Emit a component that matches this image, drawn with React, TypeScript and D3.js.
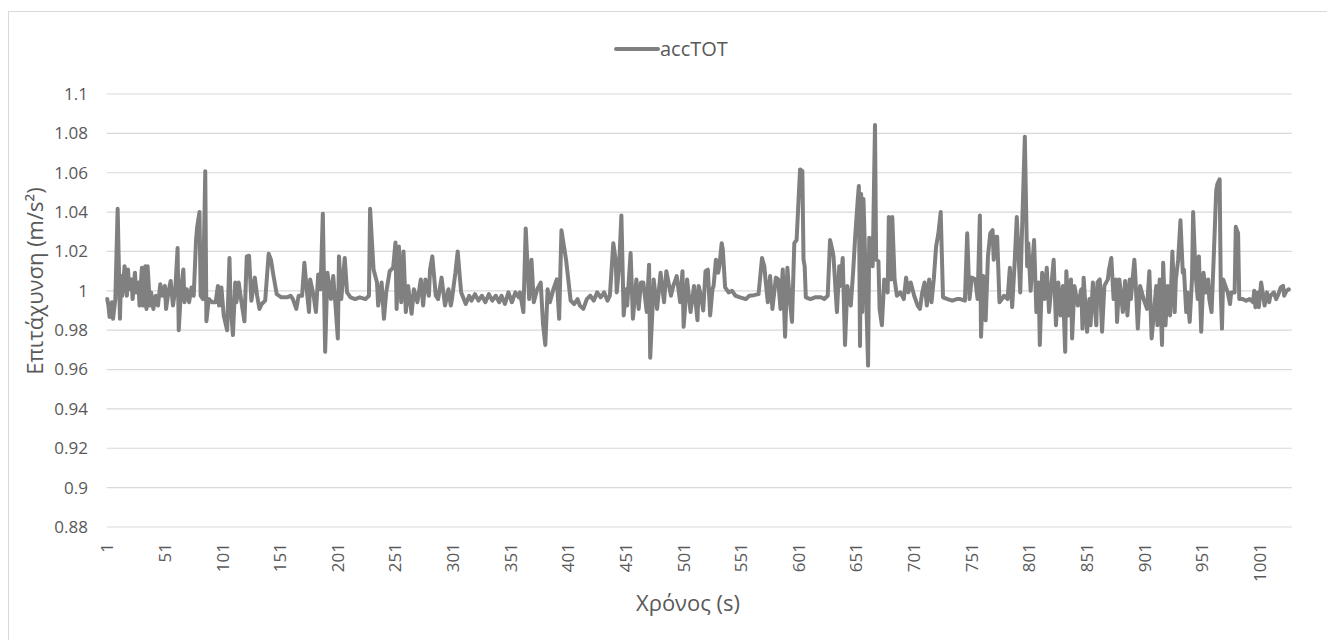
import React from 'react'
import * as d3 from 'd3'

// accTOT readings, [time index, value]
const accTOT: [number, number][] = [
  [1,0.9958],[2,0.9925],[3,0.9867],[5,0.9942],[6,0.9858],[8,0.9958],[10,1.0417],[12,0.9858],[13,1.0075],[14,0.9975],
  [16,1.0125],[18,0.9975],[19,1.0108],[20,1.0008],[22,1.0058],[23,0.9958],[25,1.0092],[26,0.9992],[28,1.0042],[29,0.9925],
  [31,1.0117],[32,0.9925],[34,1.0125],[35,0.9908],[36,1.0125],[38,0.9925],[39,0.9992],[41,0.9908],[43,0.9975],[45,0.9925],
  [47,1.0033],[49,0.9975],[51,1.0025],[52,0.9908],[54,0.9992],[56,1.005],[58,0.9925],[60,1.0008],[62,1.0217],[63,0.98],
  [65,1.0008],[67,1.0108],[68,0.9942],[70,1.0008],[72,0.9942],[74,1.0017],[76,0.9975],[78,1.0258],[79,1.0325],[81,1.04],
  [82,0.9975],[84,0.9958],[86,1.0608],[87,0.9845],[89,0.9958],[92,0.9942],[95,0.9942],[97,1.0025],[98,0.9925],[100,1.0017],
  [102,0.9875],[105,0.98],[107,1.0167],[108,0.9925],[110,0.9775],[112,1.0042],[113,0.9942],[115,1.0042],[117,0.9958],[120,0.9845],
  [122,1.0175],[124,1.0178],[126,0.995],[129,1.0067],[131,0.9975],[133,0.9908],[135,0.9933],[138,0.995],[141,1.0188],[143,1.0158],
  [145,1.0083],[148,0.9983],[152,0.9967],[157,0.9967],[160,0.9975],[162,0.9958],[165,0.9908],[167,0.9975],[170,0.9975],[172,1.0142],
  [174,1.0008],[176,0.9892],[177,1.0058],[180,0.9975],[182,0.9892],[184,1.0083],[186,1.0008],[188,1.0392],[190,0.969],[192,1.0092],
  [195,0.9958],[197,1.0075],[199,0.9925],[201,0.9758],[202,1.0175],[204,0.9958],[207,1.0167],[209,0.9992],[212,0.9967],[216,0.9958],
  [220,0.9967],[225,0.9958],[228,0.9975],[229,1.0417],[231,1.0208],[232,1.0108],[235,1.0042],[236,0.9925],[239,1.0042],[241,0.9858],
  [243,0.9992],[246,1.01],[249,1.0117],[251,1.0245],[252,0.9908],[254,1.0225],[256,0.9942],[258,1.02],[260,0.9892],[262,1.0025],
  [265,0.9883],[267,1.0008],[270,0.9942],[273,1.0058],[275,0.9925],[277,1.0058],[280,0.9975],[281,1.0108],[283,1.0175],[284,1.0108],
  [286,0.9975],[288,0.9958],[291,1.0067],[294,0.9925],[297,1.0008],[299,0.9925],[300,0.9958],[303,1.0092],[305,1.02],[307,1.0058],
  [308,0.9992],[312,0.9933],[315,0.9975],[317,0.995],[320,0.9983],[323,0.995],[326,0.9975],[329,0.9942],[332,0.9983],[335,0.995],
  [338,0.9975],[341,0.9942],[343,0.9975],[346,0.9933],[349,0.9992],[352,0.9942],[355,0.9992],[358,0.9967],[359,0.9992],[362,0.9892],
  [364,1.0317],[367,0.9958],[369,1.0158],[371,0.9942],[374,1.0008],[377,1.0042],[379,0.9833],[381,0.9725],[383,1.0008],[385,0.9942],
  [388,1.0008],[391,1.0058],[393,0.9858],[395,1.0308],[397,1.0233],[399,1.0158],[403,0.995],[406,0.9933],[409,0.9958],[411,0.9925],
  [414,0.9908],[417,0.9958],[420,0.9975],[423,0.995],[426,0.9992],[429,0.9967],[432,0.9992],[435,0.995],[437,0.9975],[440,1.0242],
  [442,1.0158],[443,0.9992],[445,1.0125],[447,1.0383],[449,0.9875],[451,1.0008],[452,0.9925],[455,1.0192],[457,0.9858],[460,1.0058],
  [462,0.9908],[464,1.0042],[466,1.0042],[469,0.9892],[471,1.0133],[472,0.966],[474,0.9908],[475,1.0058],[478,0.9908],[481,1.0092],
  [484,0.9942],[486,1.01],[490,0.9975],[492,1.0025],[495,1.0075],[498,0.9942],[500,1.01],[501,0.9817],[504,1.0058],[507,0.9892],
  [510,1.0025],[513,0.985],[514,1.0025],[516,0.9975],[518,0.99],[520,1.01],[522,1.0108],[524,0.9875],[526,1.0008],[527,1.0025],
  [529,1.0158],[531,1.0092],[532,1.0125],[534,1.0242],[535,1.0208],[537,1.0017],[540,0.9992],[543,1.0],[546,0.9975],[550,0.9967],
  [555,0.9958],[558,0.9975],[562,0.9978],[566,0.9983],[569,1.0167],[571,1.0125],[572,1.0058],[574,0.9942],[576,1.0075],[578,0.9908],
  [581,1.0067],[583,1.0058],[585,0.9908],[587,1.0108],[589,0.9767],[591,1.0117],[593,0.9958],[595,0.9842],[597,1.0242],[599,1.0258],
  [602,1.0617],[604,1.0608],[605,1.0158],[606,1.0125],[607,0.9967],[611,0.9958],[615,0.9967],[620,0.9967],[623,0.9958],[626,0.9975],
  [628,1.0258],[630,1.0208],[631,1.0175],[634,0.9892],[636,1.0125],[637,1.0025],[639,1.0167],[641,0.9725],[643,1.0025],[646,0.9925],
  [648,1.0092],[650,1.0292],[652,1.0458],[653,1.0533],[654,0.972],[655,1.0492],[656,0.9892],[657,1.0467],[659,1.0058],[661,0.962],
  [662,1.027],[664,1.0258],[665,1.0125],[667,1.0842],[668,1.0158],[670,1.015],[671,0.9908],[673,0.9825],[675,1.0058],[678,0.9992],
  [679,1.0375],[681,1.0058],[682,1.0375],[684,1.0058],[686,0.9975],[689,0.9992],[692,0.9958],[694,1.0067],[696,0.9992],[698,1.0042],
  [701,0.9975],[704,0.9925],[706,0.9908],[708,0.9992],[710,1.0042],[712,0.9925],[714,1.0058],[716,0.9942],[718,1.0058],[720,1.0225],
  [722,1.0292],[724,1.04],[726,0.9967],[730,0.9958],[734,0.995],[738,0.9958],[741,0.9958],[745,0.995],[747,1.0292],[749,0.9958],
  [751,1.0067],[754,1.0058],[756,0.9958],[758,1.0383],[759,0.9767],[761,1.0075],[763,0.985],[765,1.0175],[767,1.0292],[769,1.0308],
  [770,1.0158],[772,1.0275],[773,1.0275],[775,0.9942],[779,0.9975],[782,0.9958],[784,1.0117],[786,0.9917],[788,1.0125],[790,1.0375],
  [792,1.0125],[793,0.9992],[795,1.0392],[797,1.0783],[799,1.0125],[800,1.0242],[802,1.0],[805,1.0258],[807,0.9892],[809,1.0042],
  [810,0.9725],[812,1.0092],[814,0.9958],[816,1.0117],[818,0.9892],[820,1.0025],[822,1.0158],[824,0.9825],[826,1.0042],[828,0.9875],
  [830,1.0025],[832,0.969],[833,1.01],[835,0.9875],[837,1.0058],[838,0.9758],[840,1.0025],[843,0.9925],[846,1.0008],[847,0.9808],
  [848,1.0067],[851,0.9792],[853,0.9958],[854,0.9825],[856,1.0042],[859,0.9825],[860,1.0042],[862,1.0058],[864,0.9792],[866,1.0025],
  [869,1.0058],[870,1.0108],[872,1.0167],[874,0.9958],[876,1.0058],[877,0.9842],[879,1.0058],[882,0.9892],[884,1.005],[886,0.9875],
  [888,1.0058],[889,0.9958],[892,1.0158],[893,1.0058],[895,0.9808],[897,1.0025],[900,0.9958],[903,0.9908],[905,1.01],[907,0.9758],
  [909,0.9892],[911,1.0025],[912,0.9825],[914,1.0058],[916,0.9725],[917,1.0142],[919,0.9825],[921,1.0025],[923,0.9875],[925,1.02],
  [927,0.9892],[928,1.0058],[930,1.0158],[932,1.0358],[934,1.0092],[935,1.0108],[937,0.9892],[938,0.9992],[940,0.9842],[942,1.0058],
  [943,1.04],[945,1.0092],[947,0.9958],[948,1.0175],[950,0.9792],[952,1.0092],[954,0.9992],[956,1.0058],[957,0.9958],[959,0.9892],
  [961,1.0192],[963,1.0508],[964,1.0542],[966,1.0567],[967,0.9992],[968,0.9808],[969,1.0058],[971,1.0025],[973,0.9992],[975,0.9933],
  [976,0.9992],[979,0.9992],[980,1.0325],[982,1.0292],[983,0.9958],[986,0.9958],[989,0.995],[992,0.9958],[995,0.9942],[996,1.0],
  [997,0.9917],[999,0.9992],[1000,0.9917],[1002,1.0042],[1005,0.9925],[1007,0.9992],[1009,0.9942],[1010,0.9975],[1013,0.9992],[1015,0.9958],
  [1017,0.9983],[1019,1.0017],[1021,1.0025],[1022,0.9975],[1024,1.0],[1026,1.0008]
]

const categoryCount = 1028
const categories = d3.range(1, categoryCount + 1)
const xTickLabels = d3.range(1, 1002, 50)
const yTicks = [0.88, 0.9, 0.92, 0.94, 0.96, 0.98, 1, 1.02, 1.04, 1.06, 1.08, 1.1]

const W = 1327
const H = 640
const plot = { left: 106.7, right: 1291.7, top: 94, bottom: 527 }
const textColor = '#595959'
const gridColor = '#d9d9d9'
const lineColor = '#808080'
const font = '"Open Sans", "Noto Sans", sans-serif'

export default function App() {
  const x = d3.scaleBand<number>()
    .domain(categories)
    .range([plot.left, plot.right])
  const cx = (t: number) => (x(t) as number) + x.bandwidth() / 2

  const y = d3.scaleLinear()
    .domain([0.88, 1.1])
    .range([plot.bottom, plot.top])

  const line = d3.line<[number, number]>()
    .x((d) => cx(d[0]))
    .y((d) => y(d[1]))

  return (
    <svg width={W} height={H} style={{ position: 'absolute', left: 0, top: 0, background: '#fff' }} fontFamily={font}>
      {/* chart border */}
      <rect x={8.5} y={11.5} width={W + 20} height={H + 20} fill="none" stroke={gridColor} />

      {/* gridlines and y labels */}
      {yTicks.map((t) => (
        <g key={t}>
          <line x1={plot.left} x2={plot.right} y1={y(t)} y2={y(t)} stroke={gridColor} strokeWidth={1.2} />
          <text x={88} y={y(t)} dy="0.35em" textAnchor="end" fontSize={17} fill={textColor}>
            {String(+t.toFixed(2))}
          </text>
        </g>
      ))}

      {/* x labels */}
      {xTickLabels.map((t) => (
        <text
          key={t}
          transform={`translate(${cx(t)},543) rotate(-90)`}
          dy="0.35em"
          textAnchor="end"
          fontSize={17}
          fill={textColor}
        >
          {t}
        </text>
      ))}

      {/* series */}
      <path d={line(accTOT) || ''} fill="none" stroke={lineColor} strokeWidth={4} strokeLinejoin="round" strokeLinecap="round" />

      {/* legend */}
      <line x1={616} x2={658} y1={49} y2={49} stroke={lineColor} strokeWidth={4} strokeLinecap="round" />
      <text x={660} y={56} fontSize={20} fill={textColor}>accTOT</text>

      {/* axis titles */}
      <text x={688} y={611} textAnchor="middle" fontSize={22} fill={textColor}>Χρόνος (s)</text>
      <text transform="translate(43,281) rotate(-90)" textAnchor="middle" fontSize={22} fill={textColor}>
        Επιτάχυνση (m/s²)
      </text>
    </svg>
  )
}
